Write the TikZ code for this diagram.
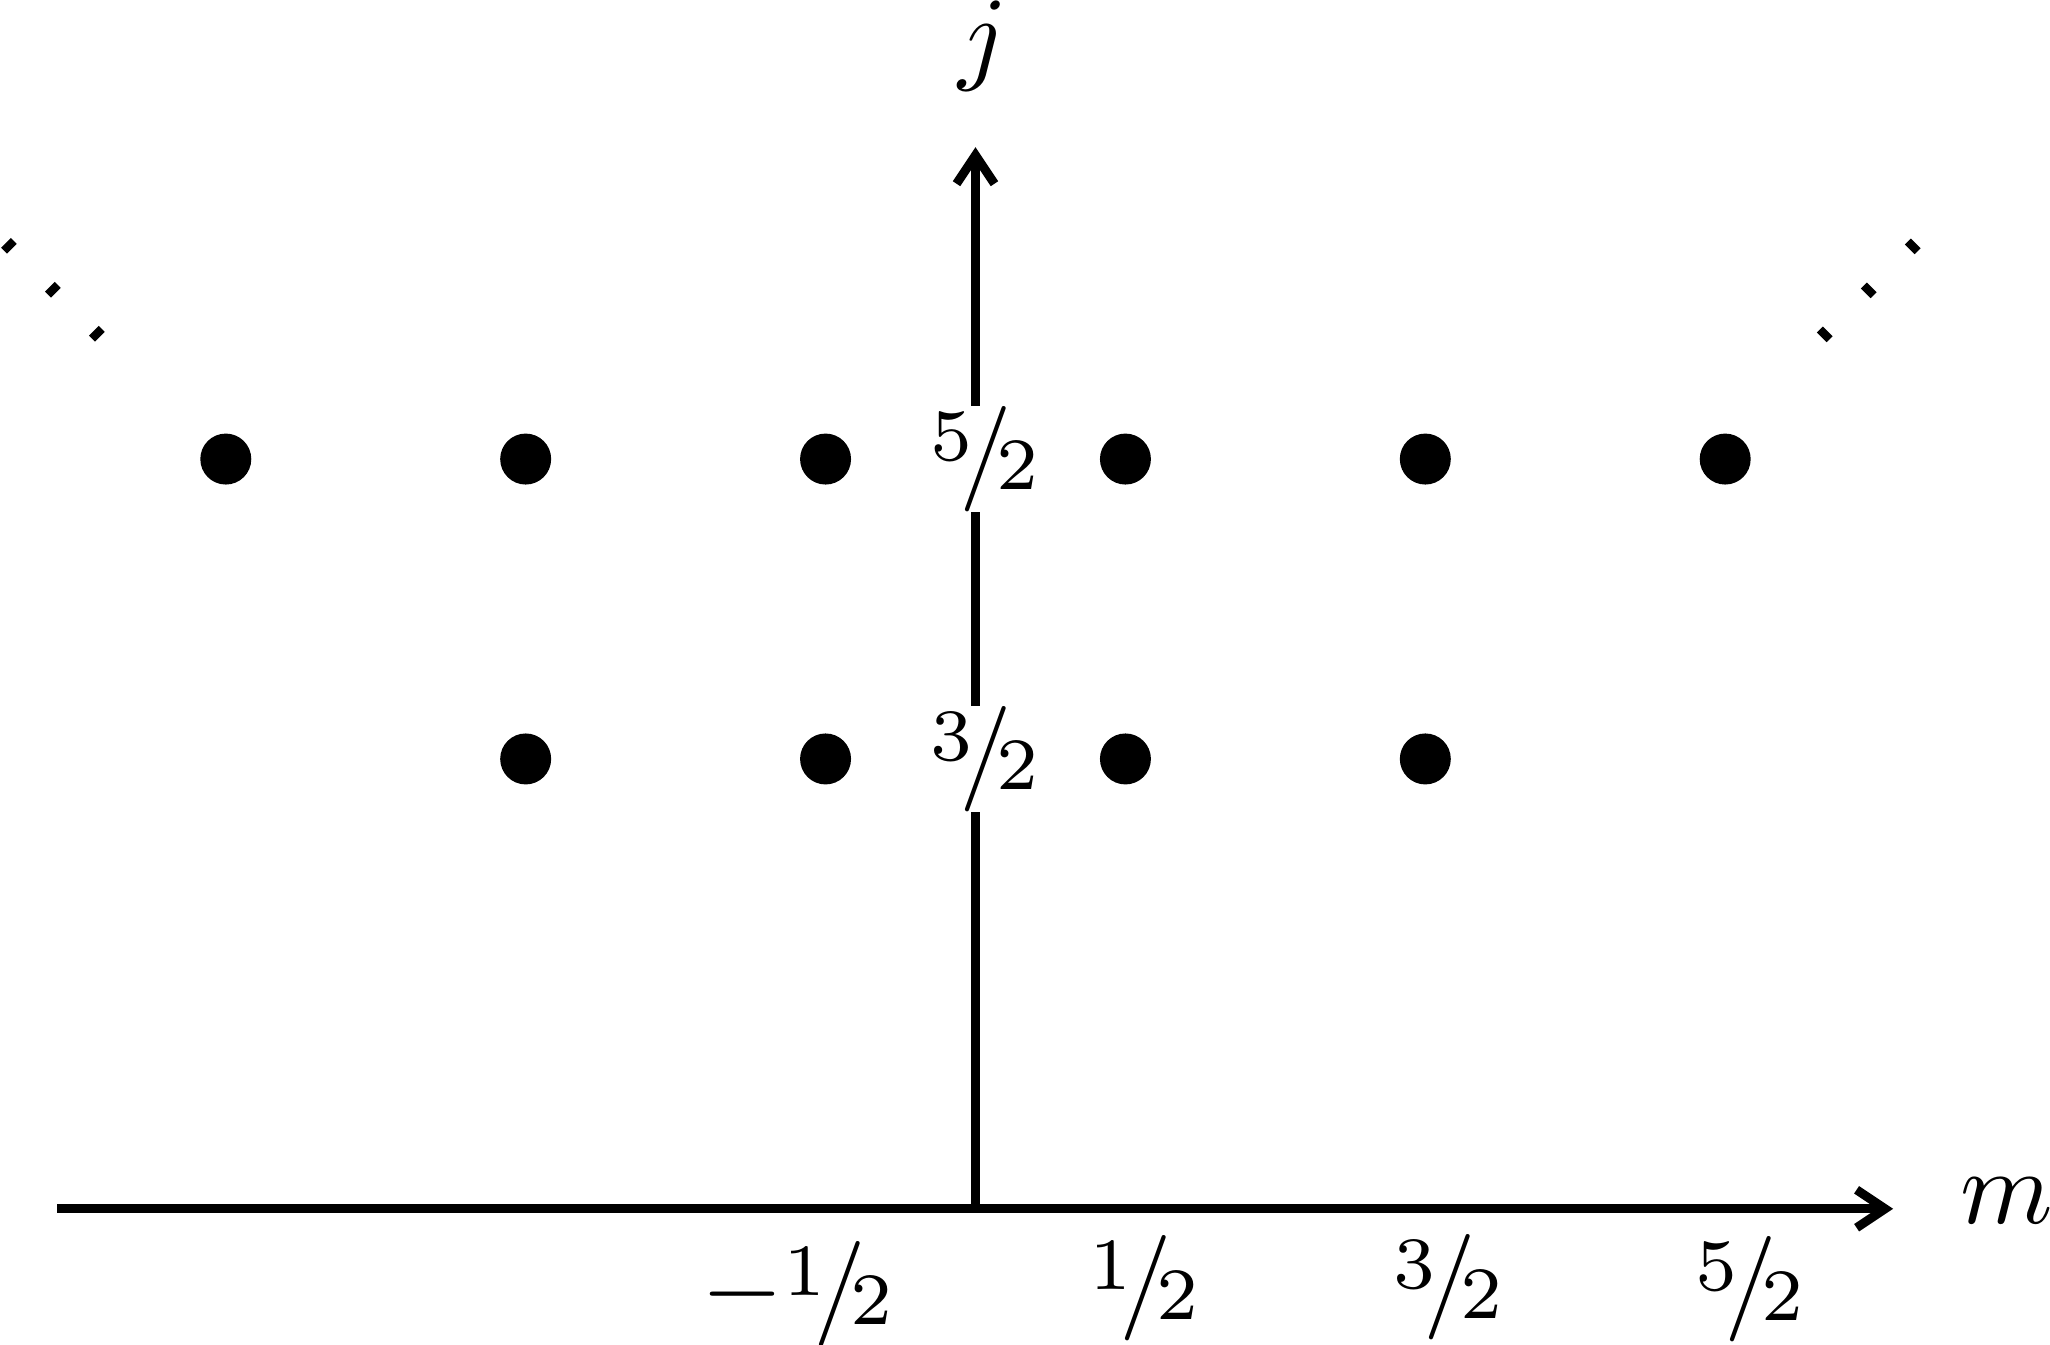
\documentclass[tikz,border=0pt]{standalone}
\usetikzlibrary{arrows.meta}
\newcommand\hfrac[2]{\mbox{\raisebox{.55ex}{$\scriptstyle #1$}\kern-.12em/\kern-.15em\raisebox{-.1ex}{$\scriptstyle #2$}}}
\begin{document}
\begin{tikzpicture}[
  axis/.style={line width=0.85pt, -{Straight Barb[length=2.7pt,width=3.6pt]}},
  state/.style={circle, fill=black, inner sep=0pt, minimum size=0.17cm},
  jlab/.style={fill=white, inner sep=0pt},
  mlab/.style={inner sep=0pt},
  ell/.style={line width=1.3pt, dash pattern=on 0.8pt off 5.1pt}
]
\useasboundingbox (-3.253,-0.454) rectangle (3.583,4.031);
\coordinate (O) at (0,0);
\coordinate (mL) at (-3.062,0);
\coordinate (mR) at (3.06,0);
\coordinate (jT) at (0,3.54);
\draw[axis] (mL) -- (mR);
\draw[axis] (O) -- (jT);
\node[jlab] (j52) at (0.03,2.5) {\hfrac{5}{2}};
\node[jlab] (j32) at (0.03,1.5) {\hfrac{3}{2}};
\foreach \m/\n in {-2.5/a,-1.5/b,-0.5/c,0.5/d,1.5/e,2.5/f}
  \node[state] (u\n) at (\m,2.5) {};
\foreach \m/\n in {-1.5/b,-0.5/c,0.5/d,1.5/e}
  \node[state] (l\n) at (\m,1.5) {};
\node[mlab] (mlm) at (-0.595,-0.284) {$-$\hfrac{1}{2}};
\node[mlab] (ml1) at (0.562,-0.265) {\hfrac{1}{2}};
\node[mlab] (ml3) at (1.576,-0.262) {\hfrac{3}{2}};
\node[mlab] (ml5) at (2.58,-0.268) {\hfrac{5}{2}};
\node[anchor=base, inner sep=0pt] (jname) at (0.025,3.795) {$j$};
\node[anchor=base, inner sep=0pt] (mname) at (3.44,-0.05) {$m$};
\coordinate (el1) at (-2.92,2.908);
\coordinate (el2) at (-3.24,3.228);
\coordinate (er1) at (2.822,2.906);
\coordinate (er2) at (3.15,3.234);
\draw[ell] (el1) -- (el2);
\draw[ell] (er1) -- (er2);
\end{tikzpicture}
\end{document}
